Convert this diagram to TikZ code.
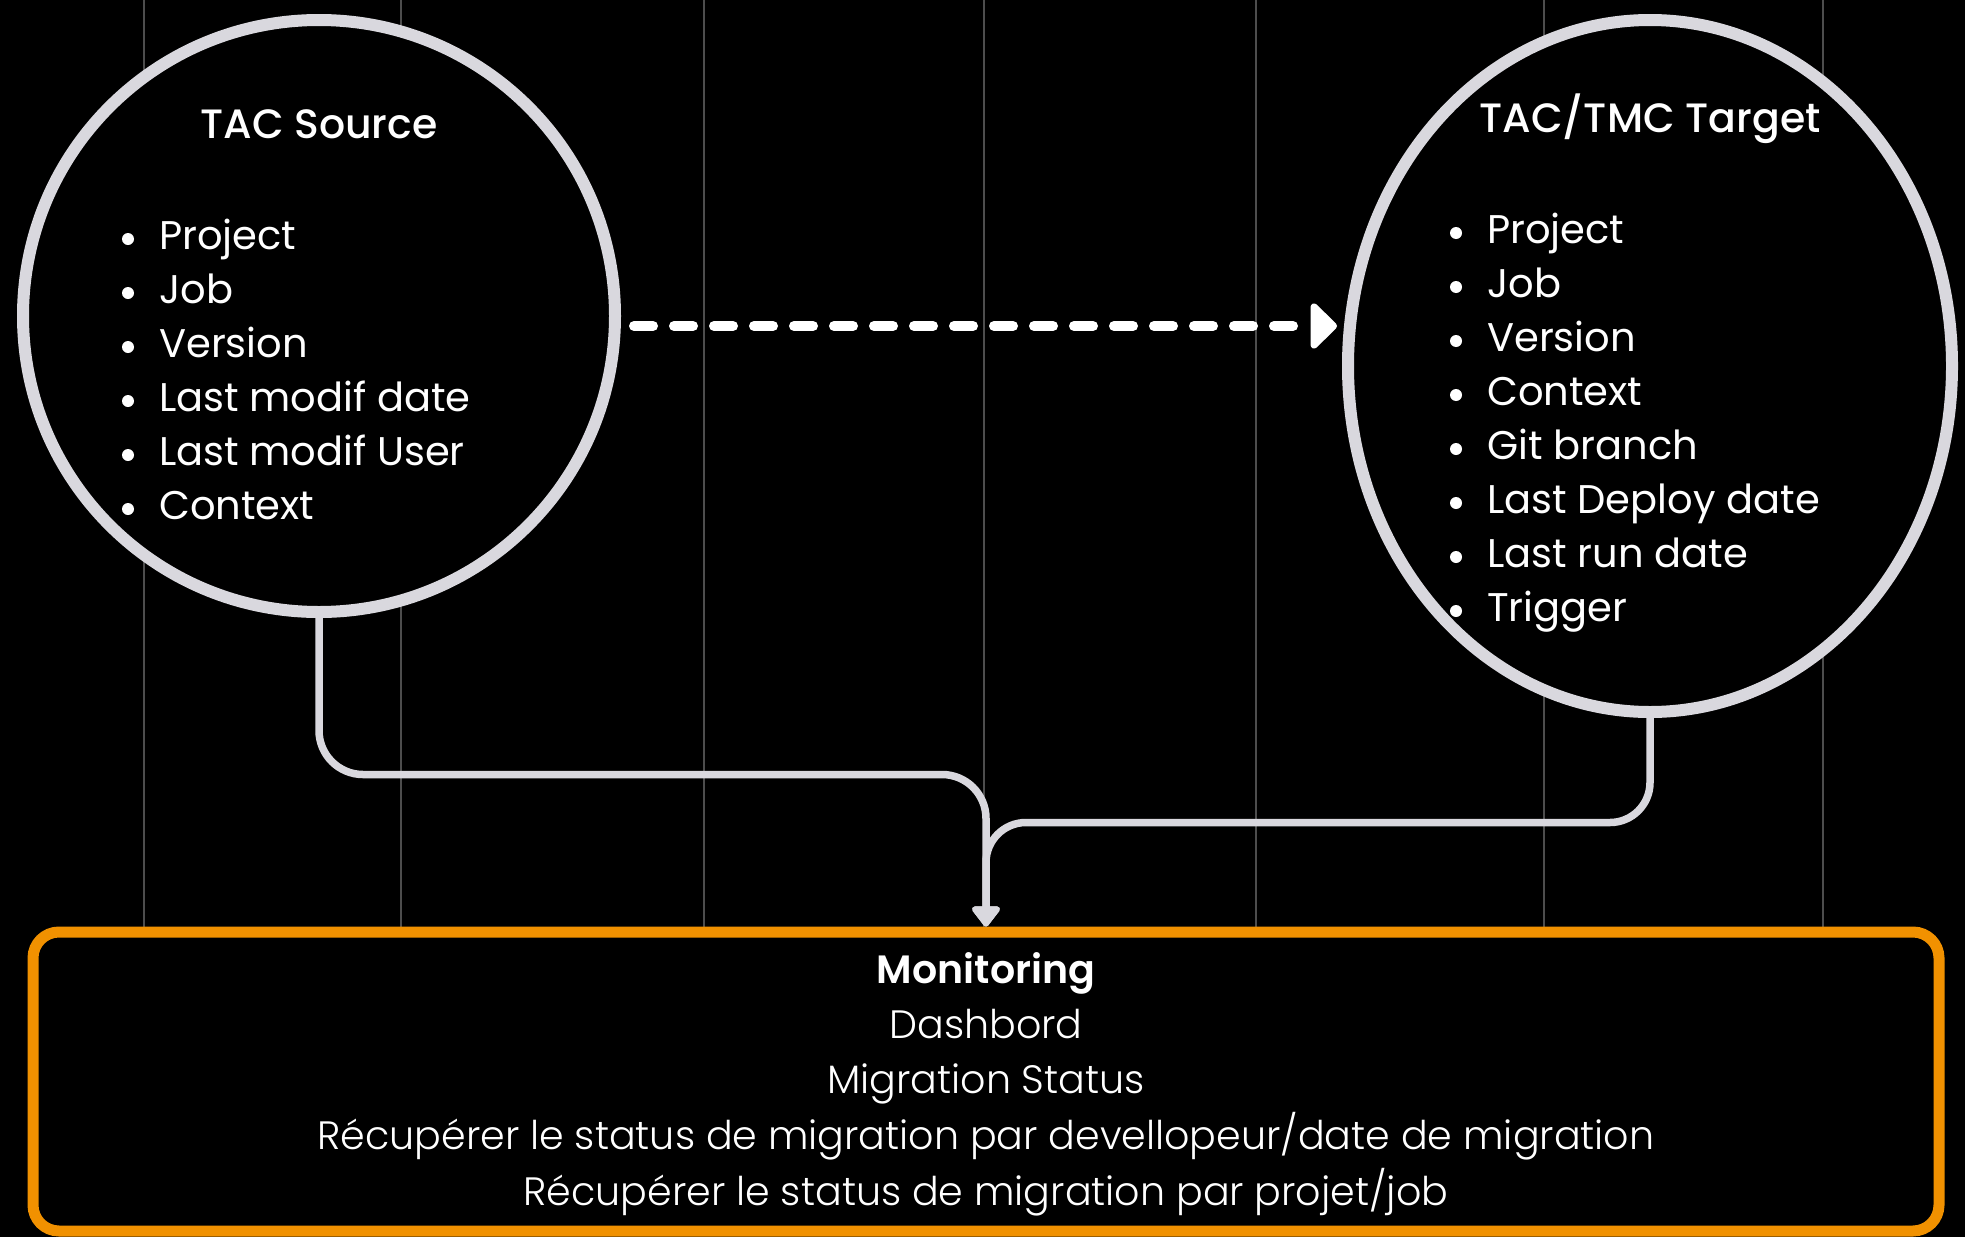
\documentclass[tikz,border=0pt]{standalone}
\usepackage{fontspec}
\setmainfont{Poppins}
\newfontfamily\lightfont{Poppins Light}
\newfontfamily\medfont{Poppins Medium}
\newfontfamily\semifont{Poppins SemiBold}
\usetikzlibrary{arrows.meta,calc,shapes.geometric}
\definecolor{ringc}{HTML}{D9D8DE}
\definecolor{boxorange}{HTML}{F19100}
\definecolor{gridc}{HTML}{4D4D4D}
\begin{document}
\begin{tikzpicture}[x=1pt,y=-1pt,
  ringnode/.style={draw=ringc, line width=12pt, fill=black, inner sep=0pt},
  conn/.style={draw=ringc, line width=7.5pt, -{Triangle[width=32pt,length=22pt,round]}},
  dasharrow/.style={draw=white, line width=10pt, line cap=round, dash pattern=on 19pt off 21pt, -{Triangle[width=53pt,length=28pt,round]}},
  title/.style={text=white, font=\medfont\fontsize{41}{48}\selectfont, anchor=base, inner sep=0pt},
  item/.style={text=white, font=\fontsize{40}{54}\selectfont, anchor=base west, inner sep=0pt},
  bul/.style={fill=white, circle, inner sep=0pt, minimum size=12pt},
  mline/.style={text=white, font=\lightfont\fontsize{39.6}{54}\selectfont, anchor=base, inner sep=0pt},
  mtitle/.style={text=white, font=\semifont\fontsize{39.5}{54}\selectfont, anchor=base, inner sep=0pt},
  gridline/.style={draw=gridc, line width=2pt}]
\fill[black] (0,0) rectangle (1965,1237);
\useasboundingbox (0,0) rectangle (1965,1237);
% grid lines
\foreach \gx in {144,401,704,984,1256,1544,1823}
  \draw[gridline] (\gx,0) -- (\gx,932);
% main shapes
\node[ringnode, circle, minimum size=592pt] (src) at (319,316) {};
\node[ringnode, ellipse, minimum width=604pt, minimum height=692pt] (tgt) at (1650,366) {};
\node[draw=boxorange, line width=11pt, rounded corners=26pt, fill=black, inner sep=0pt,
      minimum width=1906pt, minimum height=299pt] (mon) at (986,1081.5) {};
% source text
\node[title] (srct) at (319,138) {TAC Source};
\foreach \t [count=\i] in {Project,Job,Version,Last modif date,Last modif User,Context} {
  \node[item] (s\i) at (159,{249+(\i-1)*54}) {\t};
  \node[bul] (sb\i) at (128,{239+(\i-1)*54}) {};
}
% target text
\node[title] (tgtt) at (1650,132) {TAC/TMC Target};
\foreach \t [count=\i] in {Project,Job,Version,Context,Git branch,Last Deploy date,Last run date,Trigger} {
  \node[item] (t\i) at (1487,{243+(\i-1)*54}) {\t};
  \node[bul] (tb\i) at (1456,{233+(\i-1)*54}) {};
}
% monitoring text
\node[mtitle] (m1) at (986,983) {Monitoring};
\node[mline] (m2) at (986,1038) {Dashbord};
\node[mline] (m3) at (986,1093) {Migration Status};
\node[mline] (m4) at (986,1149) {Récupérer le status de migration par devellopeur/date de migration};
\node[mline] (m5) at (986,1205) {Récupérer le status de migration par projet/job};
% connectors
\coordinate (dstart) at ($(src.east)+(13,10)$);
\coordinate (dend) at ($(tgt.west)+(-5,-40)$);
\draw[dasharrow] (dstart) -- (dend);
\draw[conn, rounded corners=44pt] (src.south) |- ($(mon.north)+(0,-152)$) -- (mon.north);
\draw[conn, rounded corners=40pt] (tgt.south) |- ($(mon.north)+(0,-104)$) -- (mon.north);
\end{tikzpicture}
\end{document}
